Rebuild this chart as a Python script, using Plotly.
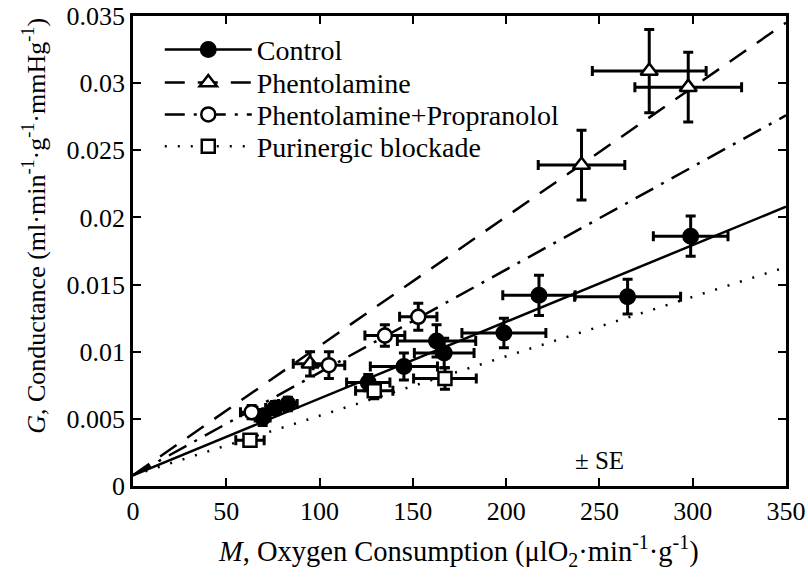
import plotly.graph_objects as go

# measured data (mean +/- SE)
ctrl_M = [69.5, 76.1, 83.0, 126.1, 145.2, 162.7, 166.8, 198.8, 217.6, 265.1, 298.9]
ctrl_G = [0.0051, 0.0058, 0.0061, 0.0077, 0.0089, 0.0108, 0.0099, 0.0114, 0.0142, 0.0141, 0.0186]
ctrl_M_se = [4, 5, 5, 11.6, 18, 21, 16, 22.5, 19.4, 28.4, 20]
ctrl_G_se = [0.0006, 0.0005, 0.0005, 0.0006, 0.001, 0.0012, 0.0011, 0.0011, 0.0015, 0.0013, 0.0015]

phen_M = [94.9, 240.4, 276.7, 297.6]
phen_G = [0.0091, 0.0239, 0.0309, 0.0297]
phen_M_se = [9, 23.2, 30.5, 28.6]
phen_G_se = [0.0009, 0.0026, 0.0031, 0.0026]

pp_M = [63.6, 105.0, 135.0, 152.9]
pp_G = [0.0055, 0.0090, 0.0112, 0.0126]
pp_M_se = [6, 8.5, 10.7, 10]
pp_G_se = [0.0005, 0.001, 0.0008, 0.001]

pur_M = [62.7, 129.3, 167.2]
pur_G = [0.0034, 0.0071, 0.0080]
pur_M_se = [7.6, 10, 16.8]
pur_G_se = [0.0004, 0.0006, 0.0008]

# regression lines
fit_M = [0, 350]
ctrl_fit = [0.0008, 0.0208]
phen_fit = [0.0008, 0.0345]
pp_fit = [0.0008, 0.0276]
pur_fit = [0.0008, 0.0163]

y_ticks = [0, 0.005, 0.01, 0.015, 0.02, 0.025, 0.03, 0.035]
y_ticktext = ["0", "0.005", "0.01", "0.015", "0.02", "0.025", "0.03", "0.035"]
x_ticks = [0, 50, 100, 150, 200, 250, 300, 350]

FONT = "Liberation Serif, Times New Roman, serif"

series = [
    ("Control", ctrl_M, ctrl_G, ctrl_M_se, ctrl_G_se, ctrl_fit, "solid",
     dict(symbol="circle", size=15, color="black", line=dict(color="black", width=2))),
    ("Phentolamine", phen_M, phen_G, phen_M_se, phen_G_se, phen_fit, "20px,13px",
     dict(symbol="triangle-up", size=15, color="white", line=dict(color="black", width=2.5))),
    ("Phentolamine+Propranolol", pp_M, pp_G, pp_M_se, pp_G_se, pp_fit, "20px,9px,3px,9px",
     dict(symbol="circle", size=14, color="white", line=dict(color="black", width=2.5))),
    ("Purinergic blockade", pur_M, pur_G, pur_M_se, pur_G_se, pur_fit, "2px,11px",
     dict(symbol="square", size=13, color="white", line=dict(color="black", width=2.5))),
]
legend_ids = ["legend", "legend2", "legend3", "legend4"]
legend_rows = [0.928, 0.858, 0.79, 0.722]

fig = go.Figure()
for name, m, g, mse, gse, fit, dash, mk in series:
    fig.add_trace(go.Scatter(x=fit_M, y=fit, mode="lines", showlegend=False,
                             line=dict(color="black", width=2.5, dash=dash)))
for name, m, g, mse, gse, fit, dash, mk in series:
    fig.add_trace(go.Scatter(
        x=m, y=g, mode="markers", showlegend=False, marker=mk,
        error_x=dict(type="data", array=mse, color="black", thickness=3, width=5),
        error_y=dict(type="data", array=gse, color="black", thickness=3, width=5),
    ))
# legend entries, one legend per row
for (name, m, g, mse, gse, fit, dash, mk), lg in zip(series, legend_ids):
    fig.add_trace(go.Scatter(x=[None], y=[None], mode="lines+markers", name=name, legend=lg,
                             marker=mk, line=dict(color="black", width=2.5, dash=dash)))

fig.add_annotation(x=250, y=0.0019, text="± SE", showarrow=False,
                   font=dict(family=FONT, size=25, color="black"))

# axis titles
fig.add_annotation(xref="paper", yref="paper", x=0.499, y=-0.138, yanchor="middle",
                   text="<i>M</i>, Oxygen Consumption (μlO<sub>2</sub>·min<sup>-1</sup>·g<sup>-1</sup>)",
                   showarrow=False, font=dict(family=FONT, size=28.5, color="black"))
fig.add_annotation(xref="paper", yref="paper", x=-0.152, y=0.553, xanchor="center",
                   text="<i>G</i>, Conductance (ml·min<sup>-1</sup>·g<sup>-1</sup>·mmHg<sup>-1</sup>)",
                   textangle=-90, showarrow=False, font=dict(family=FONT, size=26, color="black"))

axis_common = dict(
    showgrid=False, zeroline=False, showline=True, linecolor="black", linewidth=2.5,
    mirror="ticks", ticks="inside", ticklen=8, tickwidth=2, tickcolor="black",
    tickfont=dict(family=FONT, size=26, color="black"), automargin=False,
    ticklabeloverflow="allow",
)

legend_style = dict(x=0.041, xanchor="left", yanchor="middle", bgcolor="rgba(0,0,0,0)",
                    font=dict(family=FONT, size=28, color="black"), itemwidth=87)

fig.update_layout(
    width=808, height=581,
    margin=dict(l=133, r=22, t=16, b=95),
    plot_bgcolor="white", paper_bgcolor="white",
    font=dict(family=FONT, color="black"),
    xaxis=dict(range=[0, 350], tickvals=x_ticks, **axis_common),
    yaxis=dict(range=[0, 0.035], tickvals=y_ticks, ticktext=y_ticktext, **axis_common),
)
for lg, yrow in zip(legend_ids, legend_rows):
    fig.update_layout({lg: dict(y=yrow, **legend_style)})

# drop the default 8px page margin so the figure fills the window
fig.write_html("out.html", config={"displayModeBar": False},
               post_script="document.body.style.margin='0';")
